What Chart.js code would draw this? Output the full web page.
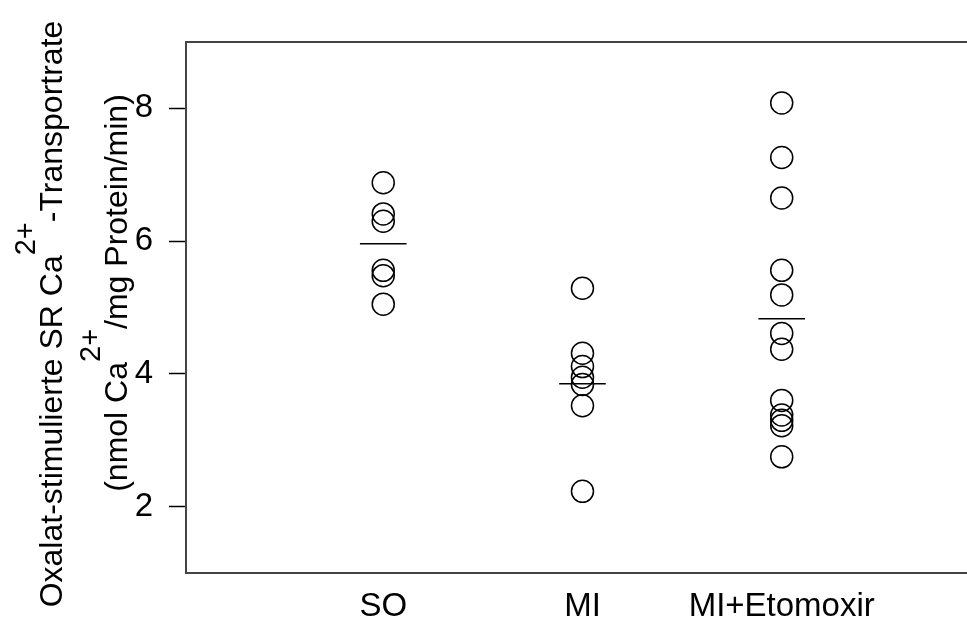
<!DOCTYPE html>
<html lang="en">
<head>
    <meta charset="UTF-8">
    <title>Oxalat-stimulierte SR Ca2+-Transportrate</title>
    <style>
        html, body {
            margin: 0;
            padding: 0;
            background-color: white;
        }
        #wrap {
            width: 967px;
            height: 622px;
        }
    </style>
</head>
<body>
    <div id="wrap"><canvas id="scatterChart"></canvas></div>

    <script src="https://cdn.jsdelivr.net/npm/chart.js"></script>
    <script>
        // groups on the x axis
        const groups = ['SO', 'MI', 'MI+Etomoxir'];

        // single values per group
        const soValues = [6.88, 6.41, 6.30, 5.56, 5.48, 5.05];
        const miValues = [5.29, 4.31, 4.11, 3.95, 3.84, 3.52, 2.23];
        const miEtoValues = [8.08, 7.26, 6.65, 5.56, 5.19, 4.61, 4.37, 3.60, 3.38, 3.30, 3.22, 2.75];

        // group means (the short horizontal bars)
        const meanValues = [5.96, 3.85, 4.83];

        const yTicks = [2, 4, 6, 8];

        const fontFamily = '"Liberation Sans", Arial, sans-serif';
        const tickFontSize = 33;
        const titleFontSize = 32;

        // scatter points, x = group position (1, 2, 3)
        function toPoints(values, pos) {
            return values.map(v => ({ x: pos, y: v }));
        }

        const pointSets = [soValues, miValues, miEtoValues].map((vals, i) => ({
            type: 'scatter',
            data: toPoints(vals, i + 1),
            pointStyle: 'circle',
            pointRadius: 11,
            pointHoverRadius: 11,
            pointBorderWidth: 1.5,
            pointBorderColor: '#000',
            pointBackgroundColor: 'rgba(0,0,0,0)',
            showLine: false
        }));

        const meanSets = meanValues.map((m, i) => ({
            type: 'line',
            data: [{ x: i + 1 - 0.117, y: m }, { x: i + 1 + 0.117, y: m }],
            borderColor: '#000',
            borderWidth: 1.5,
            pointRadius: 0,
            fill: false
        }));

        // y axis title with superscripts, drawn rotated (x = baseline, cy = centre)
        const titleLines = [
            { x: 62, cy: 314, parts: [['Oxalat-stimulierte SR Ca', false], ['2+', true], ['-Transportrate', false]] },
            { x: 127, cy: 293, parts: [['(nmol Ca', false], ['2+', true], ['/mg Protein/min)', false]] }
        ];

        const yTitlePlugin = {
            id: 'yTitle',
            afterDraw(chart) {
                const ctx = chart.ctx;
                const supSize = Math.round(titleFontSize * 0.9);
                titleLines.forEach(line => {
                    ctx.save();
                    // measure total length
                    let total = 0;
                    line.parts.forEach(([txt, sup]) => {
                        ctx.font = (sup ? supSize : titleFontSize) + 'px ' + fontFamily;
                        total += ctx.measureText(txt).width;
                    });
                    ctx.translate(line.x, line.cy);
                    ctx.rotate(-Math.PI / 2);
                    ctx.fillStyle = '#000';
                    ctx.textBaseline = 'alphabetic';
                    ctx.textAlign = 'left';
                    let pos = -total / 2;
                    line.parts.forEach(([txt, sup]) => {
                        ctx.font = (sup ? supSize : titleFontSize) + 'px ' + fontFamily;
                        ctx.fillText(txt, pos, sup ? -titleFontSize * 0.85 : 0);
                        pos += ctx.measureText(txt).width;
                    });
                    ctx.restore();
                });
            }
        };

        const ctx = document.getElementById('scatterChart').getContext('2d');
        const chart = new Chart(ctx, {
            data: {
                datasets: [...pointSets, ...meanSets]
            },
            options: {
                responsive: true,
                maintainAspectRatio: false,
                animation: false,
                layout: {
                    autoPadding: false,
                    padding: { top: 42, right: 0, bottom: 0, left: 0 }
                },
                plugins: {
                    legend: { display: false },
                    tooltip: { enabled: false }
                },
                scales: {
                    x: {
                        type: 'linear',
                        position: 'bottom',
                        min: 0.01,
                        max: 3.93,
                        afterBuildTicks: axis => {
                            axis.ticks = groups.map((g, i) => ({ value: i + 1 }));
                        },
                        afterFit: axis => { axis.height = 49; },
                        grid: { display: false, drawTicks: false },
                        border: { display: true, color: '#444', width: 2 },
                        ticks: {
                            color: '#000',
                            padding: 14,
                            maxRotation: 0,
                            autoSkip: false,
                            font: { family: fontFamily, size: tickFontSize },
                            callback: v => groups[Math.round(v) - 1]
                        }
                    },
                    xTop: {
                        type: 'linear',
                        position: 'top',
                        min: 0.01,
                        max: 3.93,
                        afterFit: axis => { axis.height = 0; },
                        grid: { display: false, drawTicks: false },
                        border: { display: true, color: '#444', width: 2 },
                        ticks: { display: false }
                    },
                    y: {
                        min: 1,
                        max: 9,
                        afterBuildTicks: axis => {
                            axis.ticks = yTicks.map(v => ({ value: v }));
                        },
                        afterFit: axis => { axis.width = 186; },
                        grid: {
                            display: true,
                            drawOnChartArea: false,
                            drawTicks: true,
                            tickLength: 17,
                            tickColor: '#000',
                            tickWidth: 1.5
                        },
                        border: { display: true, color: '#444', width: 2 },
                        ticks: {
                            color: '#000',
                            padding: 16,
                            font: { family: fontFamily, size: tickFontSize }
                        }
                    }
                }
            },
            plugins: [yTitlePlugin]
        });
    </script>
</body>
</html>
